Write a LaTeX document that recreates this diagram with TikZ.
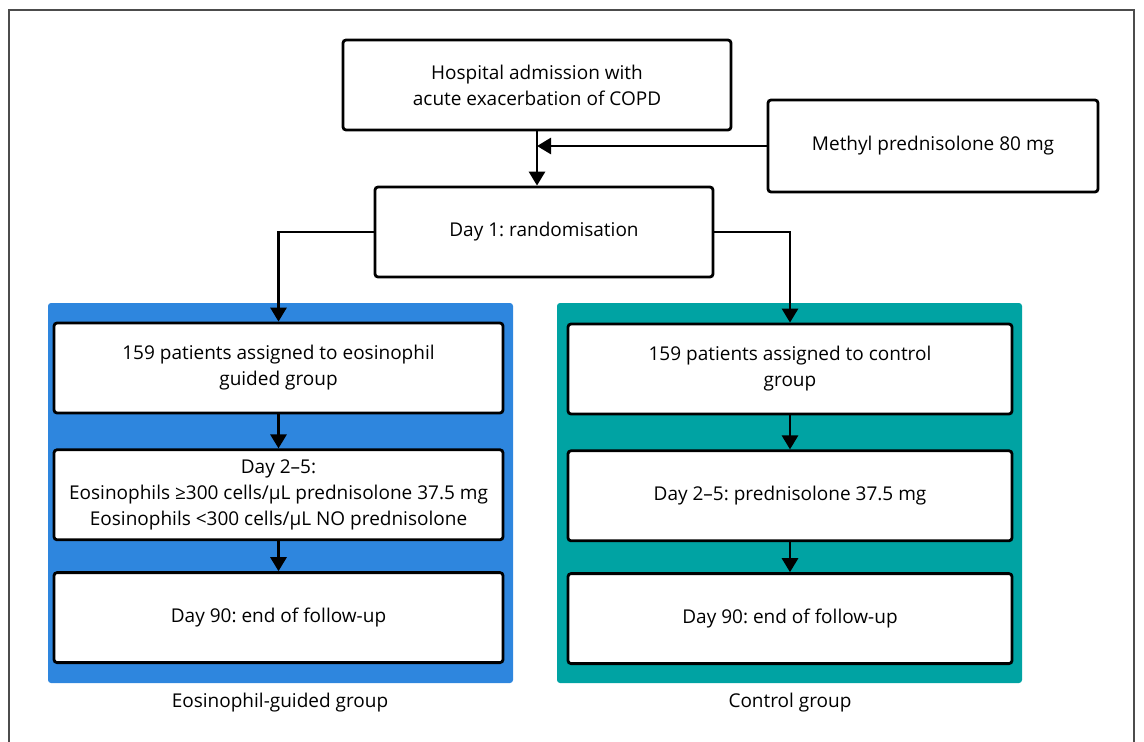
\documentclass[tikz,border=0pt]{standalone}
\usepackage{fontspec}
\setmainfont{Open Sans}
\usepackage{tikz}
\usetikzlibrary{arrows.meta, positioning}
\definecolor{egblue}{RGB}{46,134,222}
\definecolor{ctrlteal}{RGB}{0,163,163}
\frenchspacing

\begin{document}
\begin{tikzpicture}[
    x=1pt, y=-1pt,
    font=\fontsize{19}{26}\selectfont,
    box/.style={
        rectangle,
        draw,
        fill=white,
        line width=2.8pt,
        rounded corners=3pt,
        align=center,
        inner sep=0pt,
        minimum height=90pt
    },
    panel/.style={
        rectangle,
        rounded corners=3pt,
        inner sep=0pt,
        minimum width=465pt,
        minimum height=380pt
    },
    line/.style={-{Triangle[length=14pt,width=16pt]}, line width=2.8pt}
 % arrow style
]
    \useasboundingbox (0,0) rectangle (1144,742);
    % outer frame, open at the bottom
    \draw[black!70, line width=1.2pt] (9,742) -- (9,10) -- (1134,10) -- (1134,742);

    % coloured group panels
    \node[panel, fill=egblue] (egpanel) at (280.5,493) {};
    \node[panel, fill=ctrlteal] (ctrlpanel) at (789.5,493) {};

    \node[box, minimum width=388pt] (admit) at (537,85) {Hospital admission with\\acute exacerbation of COPD};
    \node[box, minimum width=330pt, minimum height=92pt] (methyl) at (933,146) {Methyl prednisolone 80 mg};
    \node[box, minimum width=338pt] (rand) at (544,232) {Day 1: randomisation};

    \node[box, minimum width=449pt] (eg1) at (278.5,368) {159 patients assigned to eosinophil\\guided group};
    \node[box, minimum width=449pt, below=34pt of eg1] (eg2) {Day 2--5:\\Eosinophils ≥300 cells/μL prednisolone 37.5 mg\\Eosinophils <300 cells/μL NO prednisolone};
    \node[box, minimum width=449pt, below=30pt of eg2] (eg3) {Day 90: end of follow-up};

    \node[box, minimum width=444pt] (ctrl1) at (790,369) {159 patients assigned to control\\group};
    \node[box, minimum width=444pt, below=34pt of ctrl1] (ctrl2) {Day 2--5: prednisolone 37.5 mg};
    \node[box, minimum width=444pt, below=30pt of ctrl2] (ctrl3) {Day 90: end of follow-up};

    \node (eglabel) at (280,703) {Eosinophil-guided group};
    \node (ctrllabel) at (790,703) {Control group};

    % arrows from edge to edge
    \draw[line] (admit.south) -- (admit.south |- rand.north);
    \draw[line] (methyl.west) -- (methyl.west -| admit.south);
    \draw[line] (rand.west) -| (eg1.north);
    \draw[line] (rand.east) -| (ctrl1.north);
    \draw[line] (eg1.south) -- (eg2.north);
    \draw[line] (eg2.south) -- (eg3.north);
    \draw[line] (ctrl1.south) -- (ctrl2.north);
    \draw[line] (ctrl2.south) -- (ctrl3.north);

\end{tikzpicture}
\end{document}
